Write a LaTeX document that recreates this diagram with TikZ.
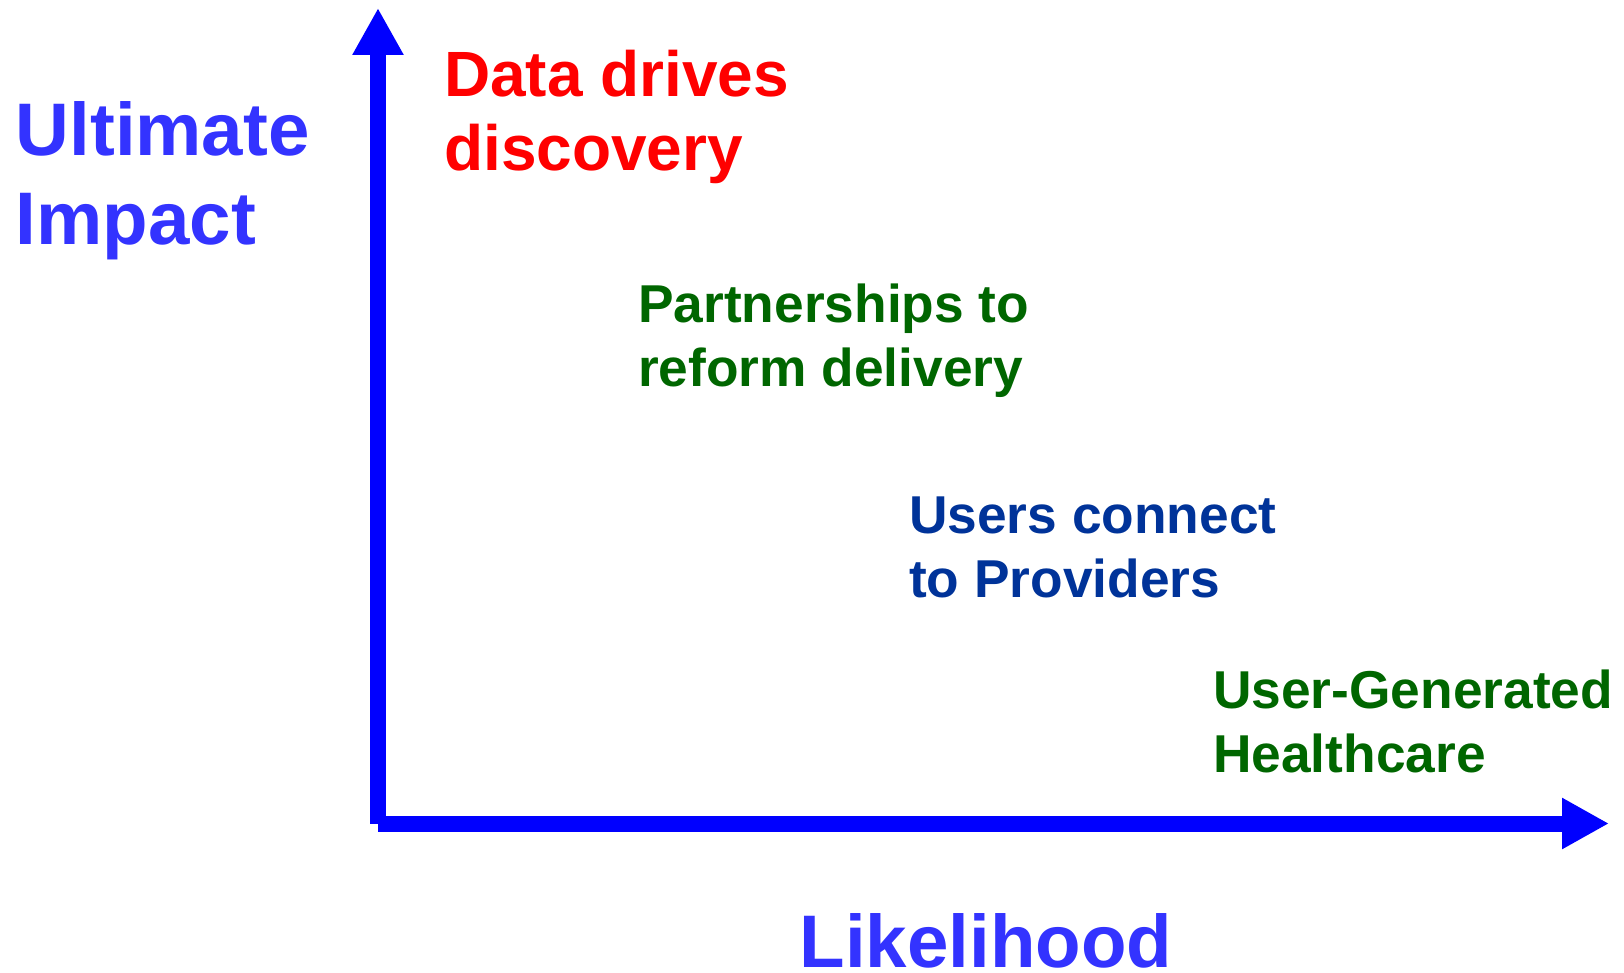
\documentclass[tikz,border=0pt]{standalone}
\usepackage{fontspec}
\setmainfont{Liberation Sans}
\usetikzlibrary{arrows.meta}
\definecolor{axisblue}{HTML}{0000FF}
\definecolor{labelblue}{HTML}{3333FF}
\definecolor{datared}{HTML}{FF0000}
\definecolor{darkgreen}{HTML}{006600}
\definecolor{navy}{HTML}{003399}
\begin{document}
\begin{tikzpicture}[x=1pt,y=-1pt,
  axis/.style={draw=axisblue,line width=16pt,-{Triangle[length=47pt,width=48pt]}},
  biglabel/.style={inner sep=0pt,anchor=base west,align=left,text=labelblue,font=\fontsize{74.5}{89}\selectfont\bfseries},
  item/.style={inner sep=0pt,anchor=base west,align=left,font=\fontsize{53.3}{63.5}\selectfont\bfseries}]
\useasboundingbox (0,0) rectangle (1624,973);
\coordinate (origin) at (378,823.5);
\coordinate (ytop) at (378,8);
\coordinate (xtip) at (1609,823.5);
\draw[axis] (origin) -- (ytop);
\draw[axis] (origin) -- (xtip);
\node[biglabel] (impact) at (15.5,245) {Ultimate\\Impact};
\node[biglabel] (likelihood) at (799.5,967) {Likelihood};
\node[item,text=datared,font=\fontsize{64}{74}\selectfont\bfseries] (data) at (444,171) {Data drives\\discovery};
\node[item,text=darkgreen] (partner) at (638,386) {Partnerships to\\reform delivery};
\node[item,text=navy] (users) at (909,597) {Users connect\\to Providers};
\node[item,text=darkgreen] (ugh) at (1213,772) {User-Generated\\Healthcare};
\end{tikzpicture}
\end{document}
